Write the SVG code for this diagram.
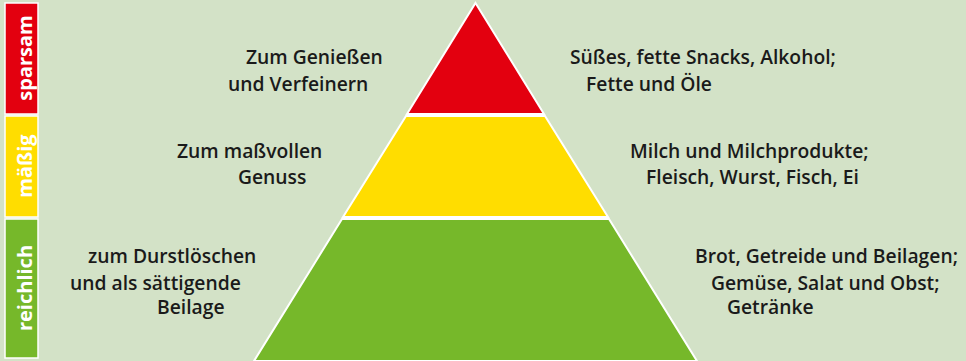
<svg xmlns="http://www.w3.org/2000/svg" width="966" height="361" viewBox="0 0 966 361">
<style>
.t{font-family:"Open Sans","Noto Sans","Liberation Sans",sans-serif;font-size:19.3px;font-weight:600;fill:#1a1a1a}
.s{font-family:"Open Sans","Noto Sans","Liberation Sans",sans-serif;font-size:20px;font-weight:700;fill:#ffffff}
.w{stroke:#ffffff;stroke-width:2}
</style>
<rect x="0" y="0" width="966" height="361" fill="#d3e2c7"/>
<g id="bar">
<rect x="5" y="3" width="33" height="111" fill="#e3000f" stroke="#fff" stroke-width="1.5"/>
<rect x="5" y="116" width="33" height="101" fill="#ffdd00" stroke="#fff" stroke-width="1.5"/>
<rect x="5" y="219" width="33" height="139" fill="#76b82a" stroke="#fff" stroke-width="1.5"/>
<text class="s" transform="translate(32,58) rotate(-90)" text-anchor="middle">sparsam</text>
<text class="s" transform="translate(32,166) rotate(-90)" text-anchor="middle">mäßig</text>
<text class="s" transform="translate(32,288) rotate(-90)" text-anchor="middle">reichlich</text>
</g>
<g id="pyramid">
<polygon class="w" points="475.5,3 544,114 407,114" fill="#e3000f"/>
<polygon class="w" points="406,116 545,116 608,217 343,217" fill="#ffdd00"/>
<polygon class="w" points="342,219 609,219 697,361 254,361" fill="#76b82a"/>
</g>
<g id="labels">
<text class="t" x="246" y="64">Zum Genießen</text>
<text class="t" x="228" y="91">und Verfeinern</text>
<text class="t" x="570" y="64">Süßes, fette Snacks, Alkohol;</text>
<text class="t" x="586" y="91">Fette und Öle</text>
<text class="t" x="177" y="158">Zum maßvollen</text>
<text class="t" x="238" y="184">Genuss</text>
<text class="t" x="630" y="158">Milch und Milchprodukte;</text>
<text class="t" x="646" y="184">Fleisch, Wurst, Fisch, Ei</text>
<text class="t" x="88" y="263">zum Durstlöschen</text>
<text class="t" x="70" y="290">und als sättigende</text>
<text class="t" x="157" y="314">Beilage</text>
<text class="t" x="695" y="263">Brot, Getreide und Beilagen;</text>
<text class="t" x="711" y="290">Gemüse, Salat und Obst;</text>
<text class="t" x="727" y="314">Getränke</text>
</g>
</svg>
